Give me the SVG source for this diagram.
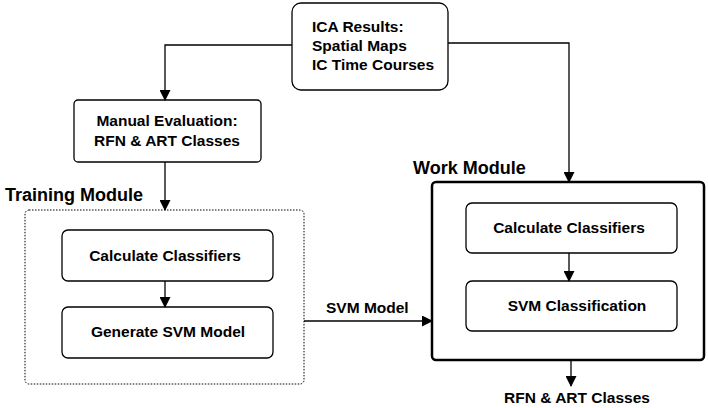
<svg xmlns="http://www.w3.org/2000/svg" width="708" height="408" viewBox="0 0 708 408">
<defs>
<marker id="ah" markerWidth="11" markerHeight="11" refX="10" refY="5.5" orient="auto" markerUnits="userSpaceOnUse">
<path d="M0,0 L11,5.5 L0,11 Z" fill="#000"/>
</marker>
<style>
.box{fill:#fff;stroke:#000;stroke-width:1.3}
.t{font-family:"Liberation Sans",Arial,sans-serif;font-weight:bold;font-size:15.5px;fill:#000}
.h{font-family:"Liberation Sans",Arial,sans-serif;font-weight:bold;font-size:18px;fill:#000}
.c{fill:none;stroke:#000;stroke-width:1.3}
</style>
</defs>
<rect width="708" height="408" fill="#fff"/>
<g id="training-module">
<rect x="25" y="210" width="279" height="174" rx="4" fill="none" stroke="#000" stroke-width="1" stroke-dasharray="1.5,1.5"/>
<text class="h" x="5" y="201">Training Module</text>
</g>
<g id="work-module">
<rect x="432" y="182" width="272" height="178" rx="4" fill="#fff" stroke="#000" stroke-width="2.5"/>
<text class="h" x="413" y="174">Work Module</text>
</g>
<g id="ica">
<rect class="box" x="292" y="3" width="156" height="87" rx="9"/>
<text class="t" x="312" y="32">ICA Results:</text>
<text class="t" x="312" y="51">Spatial Maps</text>
<text class="t" x="312" y="70">IC Time Courses</text>
</g>
<g id="manual">
<rect class="box" x="74" y="100" width="187" height="62" rx="4"/>
<text class="t" x="167" y="126" text-anchor="middle">Manual Evaluation:</text>
<text class="t" x="167" y="146" text-anchor="middle">RFN &amp; ART Classes</text>
</g>
<g id="train-calc">
<rect class="box" x="62" y="230" width="211" height="51" rx="6"/>
<text class="t" x="165" y="261" text-anchor="middle">Calculate Classifiers</text>
</g>
<g id="train-gen">
<rect class="box" x="62" y="307" width="211" height="51" rx="6"/>
<text class="t" x="168" y="337" text-anchor="middle">Generate SVM Model</text>
</g>
<g id="work-calc">
<rect class="box" x="466" y="203" width="211" height="50" rx="6"/>
<text class="t" x="569" y="233" text-anchor="middle">Calculate Classifiers</text>
</g>
<g id="work-svm">
<rect class="box" x="466" y="281" width="211" height="50" rx="6"/>
<text class="t" x="577" y="311" text-anchor="middle">SVM Classification</text>
</g>
<g id="connectors">
<path class="c" d="M292,45 H165 V100" marker-end="url(#ah)"/>
<path class="c" d="M448,43 H569 V182" marker-end="url(#ah)"/>
<path class="c" d="M165,162 V210" marker-end="url(#ah)"/>
<path class="c" d="M165,281 V307" marker-end="url(#ah)"/>
<path class="c" d="M569,253 V281" marker-end="url(#ah)"/>
<path class="c" d="M304,321 H432" marker-end="url(#ah)"/>
<text class="t" x="326" y="313">SVM Model</text>
<path class="c" d="M571,360 V386" marker-end="url(#ah)"/>
<text class="t" x="577" y="403" text-anchor="middle">RFN &amp; ART Classes</text>
</g>
</svg>
